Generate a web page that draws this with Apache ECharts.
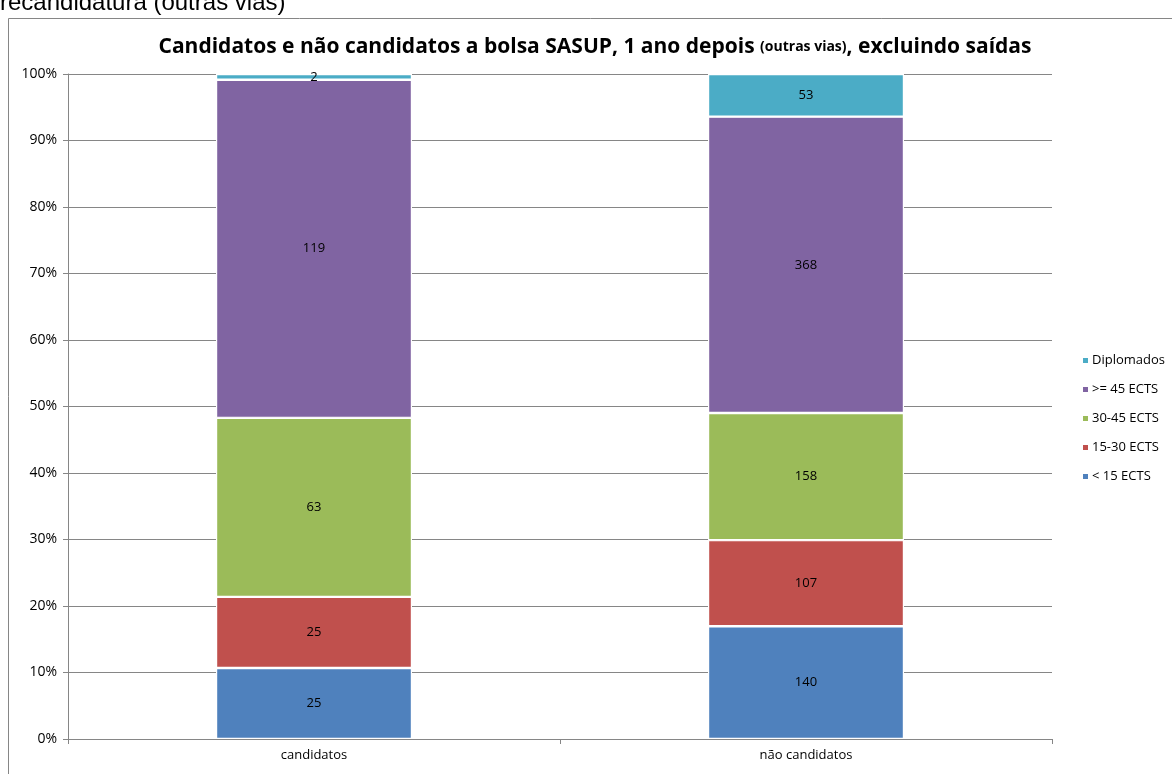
<!DOCTYPE html>
<html>
<head>
<meta charset="utf-8">
<script src="https://cdn.jsdelivr.net/npm/echarts@6/dist/echarts.min.js"></script>
<style>
  html, body { margin: 0; padding: 0; background: #fff; }
  #main { width: 1172px; height: 774px; }
</style>
</head>
<body>
<div id="main"></div>
<script>
var categories = ['candidatos', 'não candidatos'];
var seriesNames = ['< 15 ECTS', '15-30 ECTS', '30-45 ECTS', '>= 45 ECTS', 'Diplomados'];
var lt15 = [25, 140];
var e15to30 = [25, 107];
var e30to45 = [63, 158];
var ge45 = [119, 368];
var diplomados = [2, 53];
var yTicks = ['0%', '10%', '20%', '30%', '40%', '50%', '60%', '70%', '80%', '90%', '100%'];

var colors = ['#4F81BD', '#C0504D', '#9BBB59', '#8064A2', '#4BACC6'];
var counts = [lt15, e15to30, e30to45, ge45, diplomados];
var totals = categories.map(function (c, i) {
    var t = 0;
    counts.forEach(function (arr) { t += arr[i]; });
    return t;
});

var font = '"Open Sans", "Noto Sans", sans-serif';

var series = counts.map(function (arr, k) {
    return {
        name: seriesNames[k],
        type: 'bar',
        stack: 'total',
        barWidth: 196,
        data: arr.map(function (v, i) { return { value: v / totals[i] * 100, raw: v }; }),
        itemStyle: { color: colors[k], borderColor: '#fff', borderWidth: 1.2 },
        label: {
            show: true,
            position: 'inside',
            color: '#000',
            fontFamily: font,
            fontSize: 13,
            formatter: function (p) { return p.data.raw; }
        }
    };
});

var myChart = echarts.init(document.getElementById('main'));
myChart.setOption({
    animation: false,
    title: {
        text: 'Candidatos e não candidatos a bolsa SASUP, 1 ano depois {s|(outras vias)}, excluindo saídas',
        left: 590,
        textAlign: 'center',
        top: 32,
        textStyle: {
            fontFamily: font,
            fontSize: 21,
            fontWeight: 'bold',
            color: '#000',
            rich: { s: { fontFamily: font, fontSize: 14, fontWeight: 'bold', color: '#000' } }
        }
    },
    graphic: [
        {
            type: 'text', left: 0, top: -9,
            style: { text: 'recandidatura (outras vias)', font: '24px "Liberation Sans", Arial, sans-serif', fill: '#000' }
        },
        {
            type: 'rect', shape: { x: 8.5, y: 18.5, width: 1170, height: 770 },
            style: { fill: 'none', stroke: '#868686', lineWidth: 1 }
        }
    ],
    legend: {
        orient: 'vertical',
        left: 1076,
        top: 349,
        itemWidth: 7,
        itemHeight: 7,
        itemGap: 16,
        icon: 'rect',
        data: seriesNames.slice().reverse(),
        textStyle: { fontFamily: font, fontSize: 13, color: '#000', padding: [0, 0, 0, -2] }
    },
    grid: { left: 68, right: 120, top: 74, bottom: 35, containLabel: false },
    xAxis: {
        type: 'category',
        data: categories,
        axisLine: { lineStyle: { color: '#868686' } },
        axisTick: { show: true, length: 5, lineStyle: { color: '#868686' } },
        axisLabel: { fontFamily: font, fontSize: 13, color: '#000', margin: 10 }
    },
    yAxis: {
        type: 'value',
        min: 0,
        max: 100,
        interval: 10,
        axisLine: { show: true, lineStyle: { color: '#868686' } },
        axisTick: { show: true, length: 5, lineStyle: { color: '#868686' } },
        axisLabel: {
            fontFamily: font, fontSize: 14, color: '#000', margin: 11,
            formatter: function (v) { return yTicks[Math.round(v / 10)]; }
        },
        splitLine: { lineStyle: { color: '#868686' } }
    },
    series: series
});
</script>
</body>
</html>
